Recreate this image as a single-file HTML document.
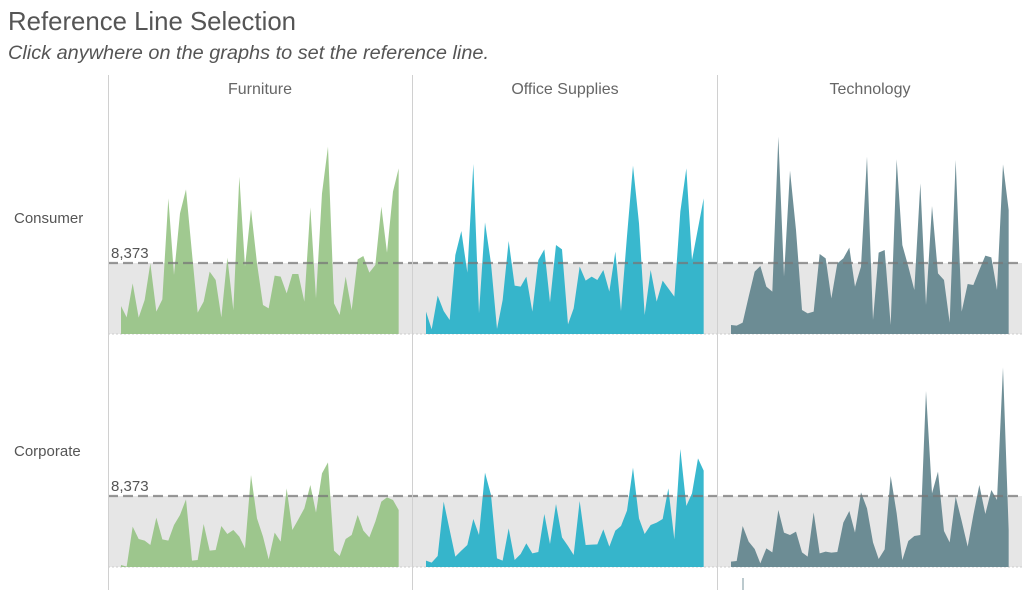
<!DOCTYPE html>
<html><head><meta charset="utf-8"><style>
body{margin:0;background:#fff;}
svg{display:block;font-family:"Liberation Sans",sans-serif;}
</style></head><body>
<svg width="1024" height="590" viewBox="0 0 1024 590" xmlns="http://www.w3.org/2000/svg">
<text x="8" y="30" font-size="26" fill="#555" textLength="288" lengthAdjust="spacingAndGlyphs">Reference Line Selection</text>
<text x="8" y="59" font-size="19.5" font-style="italic" fill="#555" textLength="481" lengthAdjust="spacingAndGlyphs">Click anywhere on the graphs to set the reference line.</text>
<g font-size="16" fill="#666" text-anchor="middle">
<text x="260" y="94">Furniture</text>
<text x="565" y="94">Office Supplies</text>
<text x="870" y="94">Technology</text>
</g>
<text x="14" y="223" font-size="15" fill="#555">Consumer</text>
<text x="14" y="456" font-size="15" fill="#555">Corporate</text>
<rect x="108" y="263" width="914" height="71" fill="#e6e6e6"/>
<rect x="108" y="496" width="914" height="71" fill="#e6e6e6"/>
<line x1="108" y1="334" x2="1022" y2="334" stroke="#ccc" stroke-dasharray="2,2"/>
<line x1="108" y1="567" x2="1022" y2="567" stroke="#ccc" stroke-dasharray="2,2"/>
<g transform="translate(100,130) scale(0.33333)" fill-opacity="0.85">
<polygon fill="#8fbf7c" points="63,612 63,528 80,562 98,460 116,563 134,510 151,400 169,545 187,508 205,205 222,435 240,250 258,178 276,370 293,548 311,515 329,425 347,450 364,562 382,383 400,540 418,140 435,410 453,238 471,400 489,525 506,535 524,437 542,440 560,490 577,432 595,432 613,515 631,232 648,505 666,190 684,50 702,520 719,555 737,440 755,540 773,388 790,378 808,428 826,405 844,230 861,368 879,185 896,115 896,612"/>
</g>
<g transform="translate(405,130) scale(0.33333)" fill-opacity="0.85">
<polygon fill="#16abc5" points="63,612 63,545 80,598 98,497 116,543 134,570 151,375 169,303 187,428 205,102 222,550 240,277 258,400 276,597 293,510 311,333 329,467 347,470 364,440 382,545 400,390 418,358 435,517 453,345 471,358 489,583 506,535 524,410 542,452 560,440 577,450 595,420 613,485 631,365 648,543 666,318 684,107 702,280 719,555 737,420 755,515 773,452 790,475 808,500 826,245 844,115 861,390 879,295 896,205 896,612"/>
</g>
<g transform="translate(710,130) scale(0.33333)" fill-opacity="0.85">
<polygon fill="#567b85" points="63,612 63,585 80,587 98,578 116,500 134,425 151,408 169,470 187,485 205,20 222,440 240,122 258,300 276,540 293,550 311,545 329,372 347,385 364,505 382,400 400,385 418,353 435,470 453,410 471,80 489,570 506,368 524,360 542,585 560,88 577,345 595,410 613,480 631,160 648,525 666,228 684,430 702,450 719,578 737,90 755,545 773,462 790,465 808,420 826,377 844,382 861,480 879,103 896,240 896,612"/>
</g>
<g transform="translate(100,440) scale(0.33333)" fill-opacity="0.85">
<polygon fill="#8fbf7c" points="63,381 63,375 80,380 98,260 116,297 134,302 151,315 169,233 187,298 205,302 222,255 240,225 258,178 276,362 293,360 311,252 329,332 347,330 364,258 382,282 400,270 418,290 435,325 453,105 471,235 489,290 506,358 524,278 542,305 560,145 577,270 595,238 613,205 631,135 648,218 666,100 684,67 702,332 719,348 737,297 755,285 773,225 790,272 808,292 826,245 844,185 861,172 879,180 896,210 896,381"/>
</g>
<g transform="translate(405,440) scale(0.33333)" fill-opacity="0.85">
<polygon fill="#16abc5" points="63,381 63,362 80,368 98,348 116,185 134,270 151,350 169,332 187,315 205,237 222,285 240,98 258,165 276,355 293,362 311,265 329,360 347,342 364,310 382,340 400,336 418,222 435,312 453,192 471,292 489,318 506,345 524,183 542,315 560,314 577,313 595,268 613,320 631,272 648,258 666,212 684,83 702,235 719,282 737,255 755,248 773,237 790,145 808,298 826,27 844,198 861,160 879,55 896,92 896,381"/>
</g>
<g transform="translate(710,350) scale(0.33333)" fill-opacity="0.85">
<polygon fill="#567b85" points="63,651 63,635 80,633 98,528 116,575 134,597 151,640 169,595 187,607 205,480 222,548 240,555 258,545 276,607 293,620 311,487 329,610 347,605 364,608 382,606 400,518 418,483 435,548 453,427 471,475 489,577 506,627 524,598 542,378 560,490 577,630 595,573 613,558 631,555 648,123 666,430 684,365 702,543 719,577 737,440 755,513 773,590 790,495 808,405 826,492 844,420 861,450 879,52 896,540 896,651"/>
</g>
<line x1="108" y1="263" x2="1022" y2="263" stroke="#777" stroke-opacity="0.75" stroke-width="2.2" stroke-dasharray="10,5"/>
<line x1="108" y1="496" x2="1022" y2="496" stroke="#777" stroke-opacity="0.75" stroke-width="2.2" stroke-dasharray="10,5"/>
<g font-size="15" fill="#555">
<text x="111" y="258">8,373</text>
<text x="111" y="491">8,373</text>
</g>
<g stroke="#d0d0d0" stroke-width="1">
<line x1="108.5" y1="75" x2="108.5" y2="590"/>
<line x1="412.5" y1="75" x2="412.5" y2="590"/>
<line x1="717.5" y1="75" x2="717.5" y2="590"/>
</g>
<line x1="743" y1="578" x2="743" y2="590" stroke="#7a959c" stroke-width="1"/>
</svg>
</body></html>
